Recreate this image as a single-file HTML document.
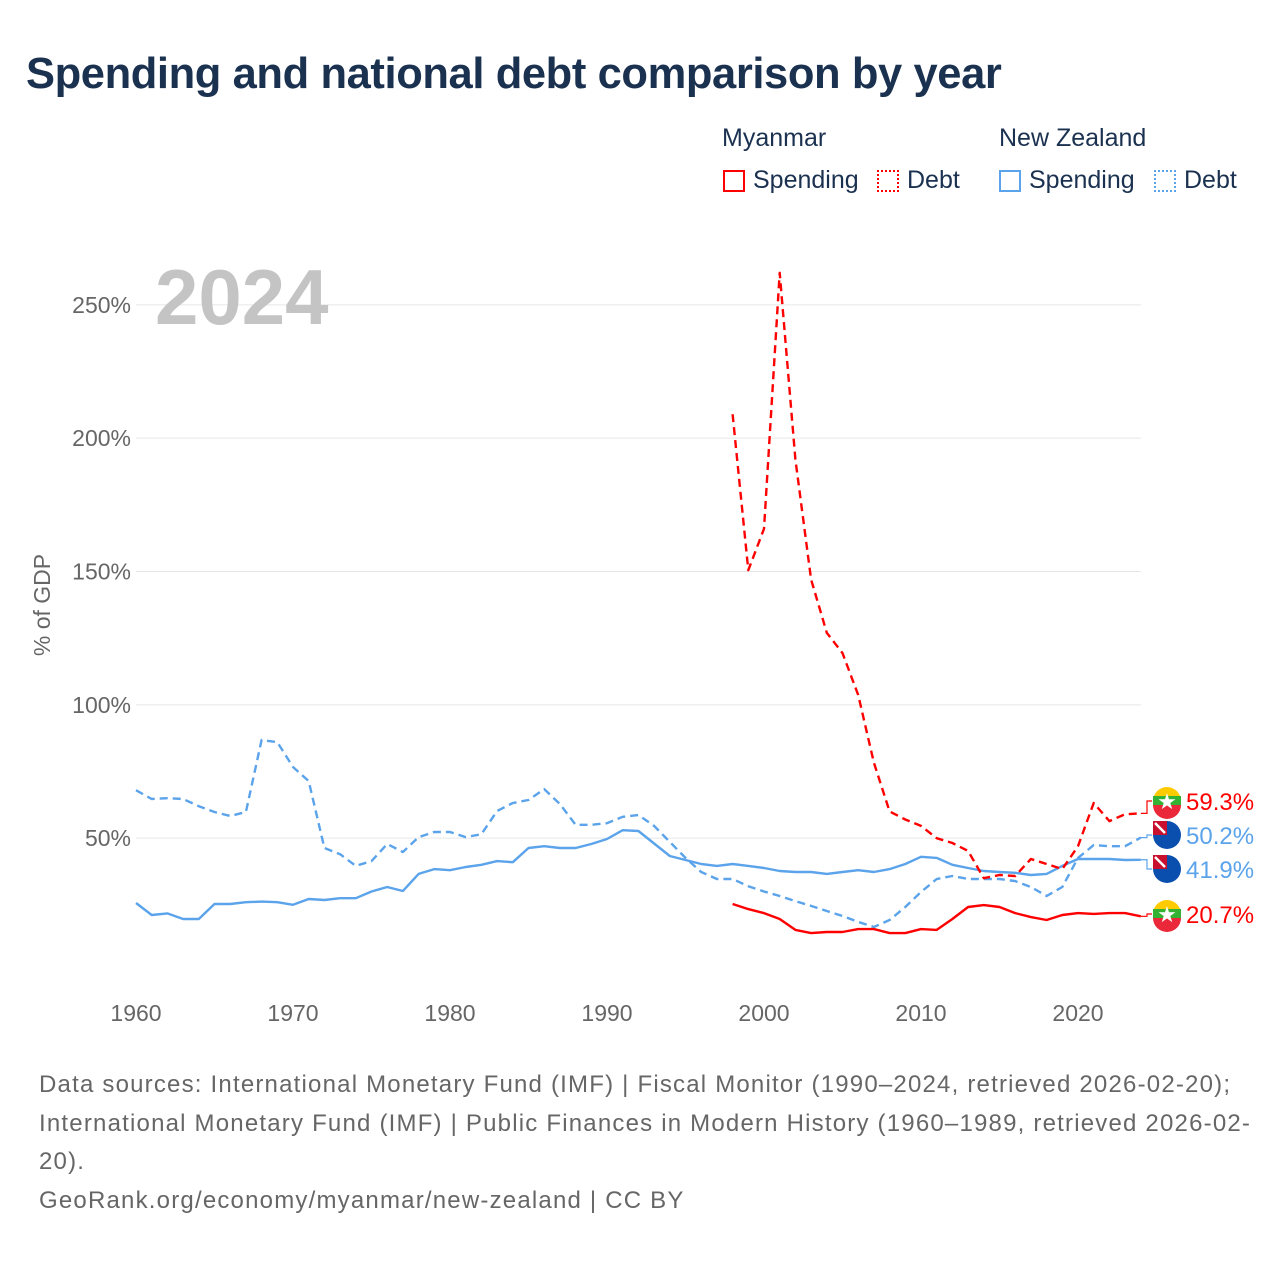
<!DOCTYPE html>
<html><head><meta charset="utf-8">
<style>
body{margin:0;background:#fff;font-family:"Liberation Sans",sans-serif;}
#wrap{position:relative;width:1280px;height:1280px;overflow:hidden;}
.title{position:absolute;left:26px;top:50px;font-size:43.5px;font-weight:bold;color:#1b3150;letter-spacing:-0.4px}
.lg{position:absolute;font-size:25px;color:#1b3150}
.box{position:absolute;width:22px;height:22px;box-sizing:border-box}
.foot{position:absolute;left:39px;top:1066px;width:1230px;font-size:24px;line-height:38.7px;color:#666;white-space:nowrap;letter-spacing:1.2px}
</style></head><body>
<div id="wrap">
<div class="title">Spending and national debt comparison by year</div>
<div class="lg" style="left:722px;top:124px">Myanmar</div>
<div class="lg" style="left:999px;top:124px">New Zealand</div>
<div class="box" style="left:723px;top:170px;border:2px solid #f00"></div>
<div class="lg" style="left:753px;top:166px">Spending</div>
<div class="box" style="left:877px;top:170px;border:2px dotted #f00"></div>
<div class="lg" style="left:907px;top:166px">Debt</div>
<div class="box" style="left:999px;top:170px;border:2px solid #5ba3ea"></div>
<div class="lg" style="left:1029px;top:166px">Spending</div>
<div class="box" style="left:1154px;top:170px;border:2px dotted #5ba3ea"></div>
<div class="lg" style="left:1184px;top:166px">Debt</div>
<svg id="plot" width="1280" height="1280" style="position:absolute;left:0;top:0"></svg>
<div class="foot">Data sources: International Monetary Fund (IMF) | Fiscal Monitor (1990–2024, retrieved 2026-02-20);<br>International Monetary Fund (IMF) | Public Finances in Modern History (1960–1989, retrieved 2026-02-<br>20).<br>GeoRank.org/economy/myanmar/new-zealand | CC BY</div>
</div>
<script>
const yTicks=[50,100,150,200,250];
const xTicks=[1960,1970,1980,1990,2000,2010,2020];
const nzYears0=1960;
const nzSpending=[25.7,21.2,21.8,19.7,19.7,25.3,25.3,26,26.2,26,25,27.2,26.8,27.5,27.5,30,31.7,30.2,36.6,38.4,38,39.2,40,41.4,41,46.3,47,46.3,46.3,47.8,49.7,53,52.7,48,43.3,41.8,40.3,39.6,40.3,39.6,38.8,37.7,37.3,37.3,36.6,37.3,38,37.3,38.4,40.3,43,42.6,40,38.8,37.7,37.3,37,36.2,36.6,39.6,42.2,42.2,42.2,41.8,41.9];
const nzDebt=[68,64.7,65,64.7,62,59.8,58.3,59.8,86.8,86,76.7,71.4,46.3,44,39.6,41.4,47.8,44.8,50.4,52.3,52.3,50.4,51.5,60.2,63.2,64.3,68.4,62.8,55,55,55.6,58,58.7,54.6,48.6,42.6,37.3,34.7,34.7,32,30,28.3,26.4,24.6,22.7,20.8,18.6,16.7,19.3,24.2,29.8,34.7,35.8,34.7,34.7,34.7,33.9,31.7,28.3,31.7,42.6,47.4,47,47,50.2];
const mmYears0=1998;
const mmSpending=[25.3,23.4,21.9,19.7,15.6,14.4,14.8,14.8,15.9,15.9,14.4,14.4,15.9,15.6,19.7,24.2,24.9,24.2,21.9,20.4,19.3,21.2,21.9,21.6,21.9,21.9,20.7];
const mmDebt=[209,150.5,166,262,192,147,127,119.4,103.7,78.3,60,57,54.6,50,48.2,45.2,35,36.2,35.8,42.2,40.3,38.4,47,63.2,56.4,59,59.3];
const NS="http://www.w3.org/2000/svg";
const svg=document.getElementById('plot');
const x=y=>136+(y-1960)*15.7;
const yv=v=>971.5-v*2.6667;
function mk(t,a){const e=document.createElementNS(NS,t);for(const k in a)e.setAttribute(k,a[k]);svg.appendChild(e);return e;}
yTicks.forEach(t=>{
 const g=mk('line',{x1:136,x2:1141,y1:yv(t),y2:yv(t),stroke:'#e6e6e6','stroke-width':1});
 
 
 const l=mk('text',{x:131,y:yv(t)+8,'text-anchor':'end','font-size':23,fill:'#666','font-family':'Liberation Sans, sans-serif'});
 l.textContent=t+'%';
 
 
});
xTicks.forEach(t=>{
 const l=mk('text',{x:x(t),y:1021,'text-anchor':'middle','font-size':23,fill:'#666','font-family':'Liberation Sans, sans-serif'});
 l.textContent=t;
 
 
});
const yt=mk('text',{transform:'translate(50,605) rotate(-90)','text-anchor':'middle','font-size':23,fill:'#666','font-family':'Liberation Sans, sans-serif'});
yt.textContent='% of GDP';


const yr=mk('text',{x:155,y:324,'font-size':78,'font-weight':'bold',fill:'#c4c4c4','font-family':'Liberation Sans, sans-serif'});
yr.textContent='2024';


function series(arr,y0,color,dash,name){
 const pts=arr.map((v,i)=>x(y0+i).toFixed(1)+','+yv(v).toFixed(1)).join(' ');
 const p=mk('polyline',{points:pts,fill:'none',stroke:color,'stroke-width':2.4,'stroke-dasharray':dash?'8,5':'none','stroke-linejoin':'round'});
 
 
}
series(nzDebt,nzYears0,'#5ba3ea',true,'nz-debt-line');
series(nzSpending,nzYears0,'#5ba3ea',false,'nz-spending-line');
series(mmDebt,mmYears0,'#f00',true,'mm-debt-line');
series(mmSpending,mmYears0,'#f00',false,'mm-spending-line');
const ends=[
 {v:mmDebt[mmDebt.length-1],ly:801,c:'#f00',f:'mm',n:'mm-debt'},
 {v:nzDebt[nzDebt.length-1],ly:835,c:'#5ba3ea',f:'nz',n:'nz-debt'},
 {v:nzSpending[nzSpending.length-1],ly:869,c:'#5ba3ea',f:'nz',n:'nz-spending'},
 {v:mmSpending[mmSpending.length-1],ly:914,c:'#f00',f:'mm',n:'mm-spending'}];
ends.forEach(e=>{
 const py=yv(e.v);
 const c=mk('polyline',{points:`${x(2024)},${py} 1147,${py} 1147,${e.ly} 1152,${e.ly}`,fill:'none',stroke:e.c,'stroke-width':1.2});
 
 
 const cx=1167;
 if(e.f==='mm'){
  mk('path',{d:`M${cx-14},${e.ly} a14,14 0 0 1 28,0 z`,fill:'#fecb00'});
  mk('rect',{x:cx-14,y:e.ly-5,width:28,height:10,fill:'#34b233'});
  mk('path',{d:`M${cx-14},${e.ly+4} h28 a14,14 0 0 1 -28,0 z`,fill:'#ea2839'});
  const s=mk('text',{x:cx,y:e.ly+8,'text-anchor':'middle','font-size':22,fill:'#fff'});s.textContent='★';
 } else {
  mk('circle',{cx:cx,cy:e.ly,r:14,fill:'#0b4fae'});
  mk('rect',{x:cx-14,y:e.ly-14,width:14,height:14,fill:'#c8102e'});
  mk('path',{d:`M${cx-12},${e.ly-12} l10,10`,stroke:'#fff','stroke-width':2.5});
 }
 const t=mk('text',{x:1186,y:e.ly+9,'font-size':24,fill:e.c,'font-family':'Liberation Sans, sans-serif'});
 t.textContent=e.v.toFixed(1)+'%';
 
 
});
</script>
</body></html>
